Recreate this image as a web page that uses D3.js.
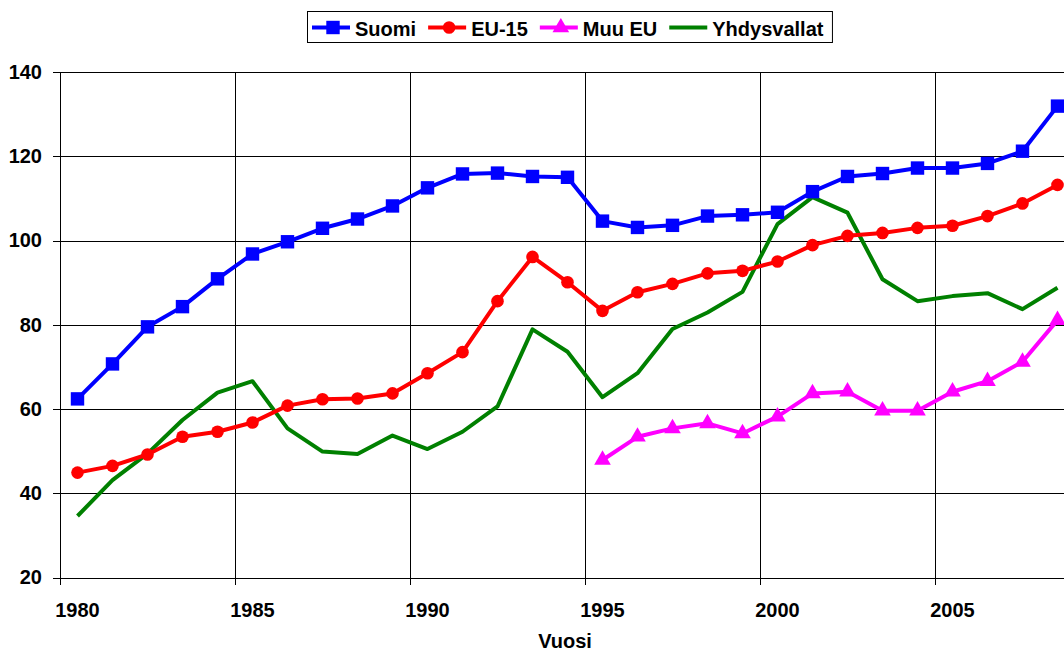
<!DOCTYPE html>
<meta charset="utf-8">
<style>
html, body {
  margin: 0;
  background: #fff;
}

svg {
  display: block;
  font-family: "Liberation Sans", Arial, Helvetica, sans-serif;
  font-weight: bold;
}

.grid line {
  stroke: #000;
  stroke-width: 1;
  shape-rendering: crispEdges;
}

.axis path,
.axis line {
  stroke: #000;
  shape-rendering: crispEdges;
}

.axis text {
  font-size: 20px;
  font-weight: bold;
  fill: #000;
}

.series {
  fill: none;
  stroke-width: 4;
  stroke-linejoin: round;
}
</style>
<body>
<svg class="chart" width="1064" height="653"></svg>

<script src="https://d3js.org/d3.v7.min.js"></script>
<script type="text/javascript">
"use strict";

var years = d3.range(1980, 2009);
var yTicks = [20, 40, 60, 80, 100, 120, 140];
var xTickYears = [1980, 1985, 1990, 1995, 2000, 2005];

var suomi = [62.4, 70.7, 79.5, 84.3, 90.9, 96.8, 99.7, 102.9, 105.1, 108.2,
  112.5, 115.8, 116.0, 115.2, 115.0, 104.6, 103.1, 103.6, 105.8, 106.1,
  106.7, 111.6, 115.2, 115.9, 117.2, 117.2, 118.3, 121.2, 131.9];

var eu15 = [44.9, 46.5, 49.2, 53.4, 54.6, 56.8, 60.8, 62.3, 62.5, 63.7,
  68.5, 73.5, 85.6, 96.1, 90.1, 83.3, 87.7, 89.7, 92.2, 92.8,
  95.0, 98.9, 101.1, 101.8, 103.0, 103.5, 105.8, 108.8, 113.2];

// Muu EU starts in 1995
var muuEuYears = d3.range(1995, 2009);
var muuEu = [47.9, 53.4, 55.4, 56.6, 54.2, 58.2, 63.7, 64.1, 59.6, 59.6,
  64.1, 66.6, 71.2, 81.1];

var usa = [34.6, 43.1, 49.4, 57.4, 63.9, 66.6, 55.4, 49.9, 49.3, 53.7,
  50.5, 54.6, 60.6, 78.9, 73.6, 62.8, 68.5, 79.0, 82.9, 87.8,
  103.9, 110.3, 106.6, 90.8, 85.6, 86.8, 87.5, 83.7, 88.8];

var seriesNames = ["Suomi", "EU-15", "Muu EU", "Yhdysvallat"];
var seriesColors = ["#0000ff", "#ff0000", "#ff00ff", "#008000"];
var seriesMarkers = ["square", "circle", "triangle", null];

var margin = { top: 72, left: 60 },
  bandWidth = 35,
  plotBottom = 577.5,
  plotRight = margin.left + bandWidth * (years.length + 1);

var svg = d3.select(".chart");

var x = d3.scaleBand()
  .domain(years.concat([2009]))
  .range([margin.left, plotRight])
  .padding(0);

var y = d3.scaleLinear()
  .domain([20, 140])
  .range([plotBottom, margin.top]);

function cx(year) { return x(year) + x.bandwidth() / 2; }

// grid
var grid = svg.append("g").attr("class", "grid");
grid.selectAll(".h")
  .data(yTicks)
  .join("line")
  .attr("x1", margin.left)
  .attr("x2", plotRight)
  .attr("y1", function(d) { return Math.round(y(d)) + 0.5; })
  .attr("y2", function(d) { return Math.round(y(d)) + 0.5; });

grid.selectAll(".v")
  .data(xTickYears.slice(1))
  .join("line")
  .attr("x1", function(d) { return x(d); })
  .attr("x2", function(d) { return x(d); })
  .attr("y1", margin.top)
  .attr("y2", plotBottom);

// axes
svg.append("g")
  .attr("class", "axis")
  .attr("transform", "translate(" + margin.left + ",0)")
  .call(d3.axisLeft(y).tickValues(yTicks).tickSize(7).tickPadding(11).tickSizeOuter(0));

var xAxis = svg.append("g")
  .attr("class", "axis")
  .attr("transform", "translate(0," + Math.round(plotBottom) + ")");
xAxis.append("line")
  .attr("x1", margin.left)
  .attr("x2", plotRight);
xAxis.selectAll(".tick-mark")
  .data(xTickYears)
  .join("line")
  .attr("x1", function(d) { return x(d); })
  .attr("x2", function(d) { return x(d); })
  .attr("y1", 0)
  .attr("y2", 7);
xAxis.selectAll(".tick-label")
  .data(xTickYears)
  .join("text")
  .attr("x", function(d) { return cx(d); })
  .attr("y", 39)
  .attr("text-anchor", "middle")
  .text(function(d) { return d; });

svg.append("text")
  .attr("x", 565)
  .attr("y", 648)
  .attr("text-anchor", "middle")
  .style("font-size", "20px")
  .text("Vuosi");

// series
var seriesData = [
  years.map(function(yr, i) { return [yr, suomi[i]]; }),
  years.map(function(yr, i) { return [yr, eu15[i]]; }),
  muuEuYears.map(function(yr, i) { return [yr, muuEu[i]]; }),
  years.map(function(yr, i) { return [yr, usa[i]]; })
];

var line = d3.line()
  .x(function(d) { return cx(d[0]); })
  .y(function(d) { return y(d[1]); });

var symbolTypes = { square: d3.symbolSquare, circle: d3.symbolCircle, triangle: d3.symbolTriangle };
var symbolSizes = { square: 180, circle: 125, triangle: 120 };

function drawMarker(g, type, color) {
  if (!type) return;
  g.append("path")
    .attr("d", d3.symbol().type(symbolTypes[type]).size(symbolSizes[type])())
    .attr("fill", color);
}

var order = [3, 2, 1, 0];
order.forEach(function(k) {
  svg.append("path")
    .datum(seriesData[k])
    .attr("class", "series")
    .attr("stroke", seriesColors[k])
    .attr("d", line);

  if (seriesMarkers[k]) {
    svg.selectAll(".m" + k)
      .data(seriesData[k])
      .join("g")
      .attr("transform", function(d) { return "translate(" + cx(d[0]) + "," + y(d[1]) + ")"; })
      .each(function() { drawMarker(d3.select(this), seriesMarkers[k], seriesColors[k]); });
  }
});

// legend
var legend = svg.append("g").attr("class", "legend");
var lx = 312;
seriesNames.forEach(function(name, k) {
  var g = legend.append("g").attr("transform", "translate(" + lx + ",27.5)");
  g.append("line")
    .attr("x1", 0).attr("x2", 38)
    .attr("stroke", seriesColors[k])
    .attr("stroke-width", 4);
  var m = g.append("g").attr("transform", "translate(21,0)");
  drawMarker(m, seriesMarkers[k], seriesColors[k]);
  var t = g.append("text")
    .attr("x", 43)
    .attr("y", 8)
    .style("font-size", "20px")
    .text(name);
  lx += 43 + t.node().getComputedTextLength() + 12;
});
legend.insert("rect", ":first-child")
  .attr("x", 307.5)
  .attr("y", 11.5)
  .attr("width", lx - 12 + 9 - 307.5)
  .attr("height", 31)
  .attr("fill", "#fff")
  .attr("stroke", "#000");
</script>
</body>
